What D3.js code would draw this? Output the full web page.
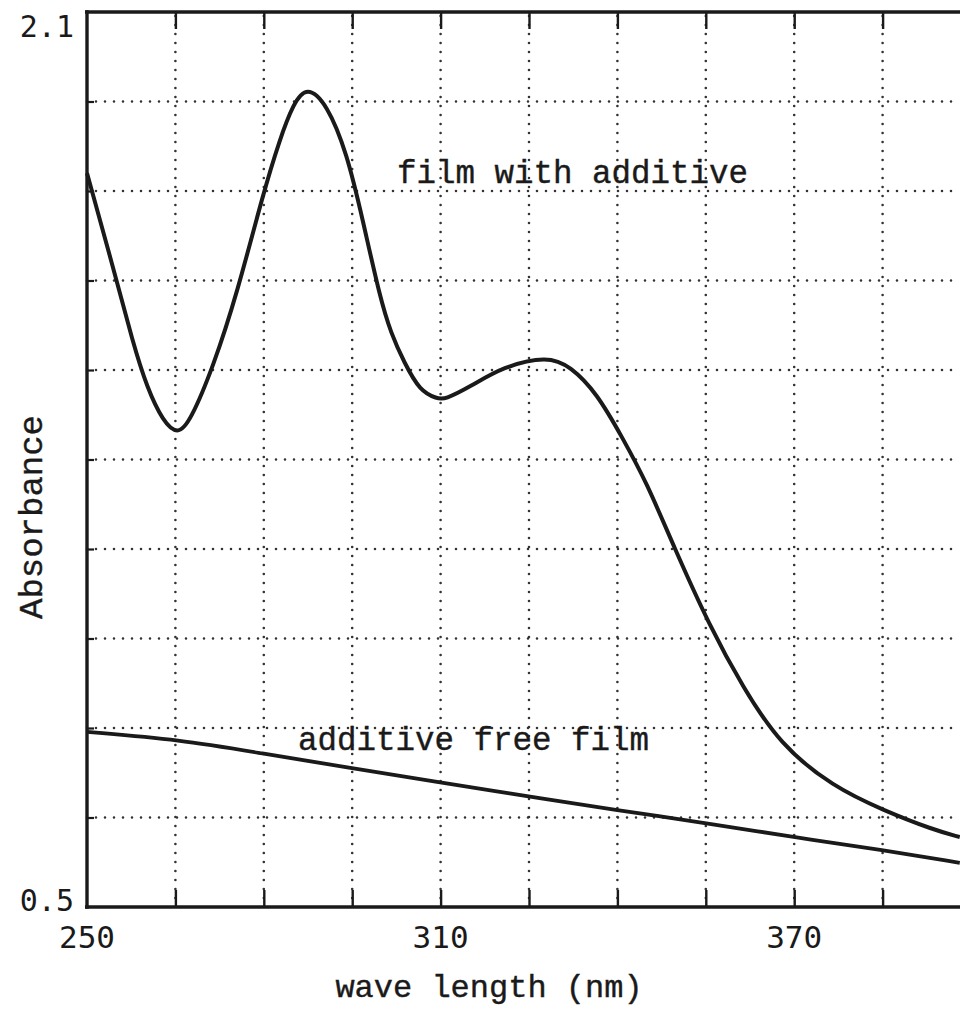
<!DOCTYPE html>
<html>
<head>
<meta charset="utf-8">
<script src="https://cdn.jsdelivr.net/npm/d3@7"></script>
<style>
  html, body { margin: 0; padding: 0; background: #fff; }
  svg { display: block; }
</style>
</head>
<body>
<svg id="chart" width="960" height="1012"></svg>
<script>
// ---- data ----
const withAdditiveNm  = [250, 254.4, 257.8, 260.2, 262.9, 265.4, 267.5, 271.4, 275.5, 279.9, 282.7, 285.0, 287.3, 290.7, 294.1, 296.8, 299.7, 301.6, 303.8, 306.5, 309.4, 310.7, 315.0, 320.6, 328.1, 332.0, 336.5, 340.9, 345.0, 349.5, 355.7, 361.3, 367.6, 376.6, 385.1, 393.6, 398.1];
const withAdditiveAbs = [1.812, 1.645, 1.508, 1.428, 1.368, 1.344, 1.368, 1.465, 1.598, 1.776, 1.872, 1.936, 1.968, 1.936, 1.848, 1.728, 1.590, 1.525, 1.474, 1.422, 1.409, 1.407, 1.430, 1.466, 1.485, 1.467, 1.419, 1.338, 1.258, 1.146, 1.001, 0.893, 0.790, 0.715, 0.673, 0.638, 0.625];
const freeFilmNm  = [250, 265.8, 279.4, 295.1, 309.9, 320.1, 325.2, 339.9, 355.2, 369.8, 384.9, 398.1];
const freeFilmAbs = [0.813, 0.799, 0.775, 0.748, 0.723, 0.706, 0.697, 0.673, 0.650, 0.625, 0.602, 0.579];
const xTickLabels = [250, 310, 370];
const yTickLabels = [0.5, 2.1];
const xGrid = [265, 280, 295, 310, 325, 340, 355, 370, 385, 400];
const yGrid = [0.66, 0.82, 0.98, 1.14, 1.30, 1.46, 1.62, 1.78, 1.94];
const curveLabels = [
  {text: "film with additive", nm: 302.6, abs: 1.794},
  {text: "additive free film", nm: 285.8, abs: 0.781}
];

// ---- scales ----
const x = d3.scaleLinear().domain([250, 400]).range([87, 971]);
const y = d3.scaleLinear().domain([0.5, 2.1]).range([907, 12]);

const svg = d3.select("#chart");
const ink = "#1a1a1a";
const mono = "'Courier New', 'Nimbus Mono PS', 'Nimbus Mono L', FreeMono, Courier, 'Liberation Mono', monospace";
const sansMono = "'DejaVu Sans Mono', monospace";

// grid (dotted)
const grid = svg.append("g").attr("stroke", "#333").attr("stroke-width", 2.6)
  .attr("stroke-linecap", "round").attr("stroke-dasharray", "0,9");
grid.selectAll("line.v").data(xGrid).join("line").attr("class", "v")
  .attr("x1", d => x(d)).attr("x2", d => x(d))
  .attr("y1", y(2.1) + 4).attr("y2", y(0.5));
grid.selectAll("line.h").data(yGrid).join("line").attr("class", "h")
  .attr("x1", x(250)).attr("x2", 960)
  .attr("y1", d => y(d)).attr("y2", d => y(d));

// bottom axis with inner ticks
const xAxis = d3.axisBottom(x).tickValues(xGrid).tickSize(-17).tickFormat("");
const gx = svg.append("g").attr("transform", `translate(0,${y(0.5)})`).call(xAxis);
gx.select(".domain").remove();
gx.selectAll(".tick line").attr("stroke", ink).attr("stroke-width", 2.4);
svg.append("line").attr("x1", x(250) - 2).attr("x2", 960)
  .attr("y1", y(0.5)).attr("y2", y(0.5)).attr("stroke", ink).attr("stroke-width", 3.4);

// top border with ticks
const xTop = d3.axisTop(x).tickValues(xGrid).tickSize(-17).tickFormat("");
const gt = svg.append("g").attr("transform", `translate(0,${y(2.1)})`).call(xTop);
gt.select(".domain").remove();
gt.selectAll(".tick line").attr("stroke", ink).attr("stroke-width", 2.4);
svg.append("line").attr("x1", x(250) - 2).attr("x2", 960)
  .attr("y1", y(2.1)).attr("y2", y(2.1)).attr("stroke", ink).attr("stroke-width", 3.4);

// left axis
const yAxis = d3.axisLeft(y).tickValues(yGrid).tickSize(-7).tickFormat("");
const gy = svg.append("g").attr("transform", `translate(${x(250)},0)`).call(yAxis);
gy.select(".domain").remove();
gy.selectAll(".tick line").attr("stroke", ink).attr("stroke-width", 2.2);
svg.append("line").attr("x1", x(250)).attr("x2", x(250))
  .attr("y1", y(2.1) - 1.7).attr("y2", y(0.5) + 1.7).attr("stroke", ink).attr("stroke-width", 3.4);

// curves
const line = d3.line().x(d => x(d[0])).y(d => y(d[1])).curve(d3.curveBasis);
svg.append("path").datum(d3.zip(withAdditiveNm, withAdditiveAbs))
  .attr("d", line).attr("fill", "none").attr("stroke", ink).attr("stroke-width", 4)
  .attr("stroke-linejoin", "round");
svg.append("path").datum(d3.zip(freeFilmNm, freeFilmAbs))
  .attr("d", line).attr("fill", "none").attr("stroke", ink).attr("stroke-width", 3.8)
  .attr("stroke-linejoin", "round");

// tick labels
svg.selectAll("text.xl").data(xTickLabels).join("text").attr("class", "xl")
  .attr("x", d => x(d)).attr("y", 948).attr("text-anchor", "middle")
  .attr("font-family", sansMono).attr("font-size", 31).attr("fill", ink)
  .text(d => d);
svg.selectAll("text.yl").data(yTickLabels).join("text").attr("class", "yl")
  .attr("x", 74).attr("y", d => d === 0.5 ? y(d) + 4 : y(d) + 25).attr("text-anchor", "end")
  .attr("font-family", sansMono).attr("font-size", 30).attr("fill", ink)
  .text(d => d.toFixed(1));

// axis titles
svg.append("text").attr("x", 489).attr("y", 997).attr("text-anchor", "middle")
  .attr("font-family", mono).attr("font-size", 32).attr("fill", ink)
  .attr("stroke", ink).attr("stroke-width", 0.4)
  .text("wave length (nm)");
svg.append("text").attr("transform", "translate(42,517) rotate(-90)").attr("text-anchor", "middle")
  .attr("font-family", mono).attr("font-size", 34).attr("fill", ink)
  .attr("stroke", ink).attr("stroke-width", 0.4)
  .text("Absorbance");

// curve labels
svg.selectAll("text.cl").data(curveLabels).join("text").attr("class", "cl")
  .attr("x", d => x(d.nm)).attr("y", d => y(d.abs))
  .attr("font-family", mono).attr("font-size", 32.5).attr("fill", ink)
  .attr("stroke", ink).attr("stroke-width", 0.4)
  .text(d => d.text);
</script>
</body>
</html>
